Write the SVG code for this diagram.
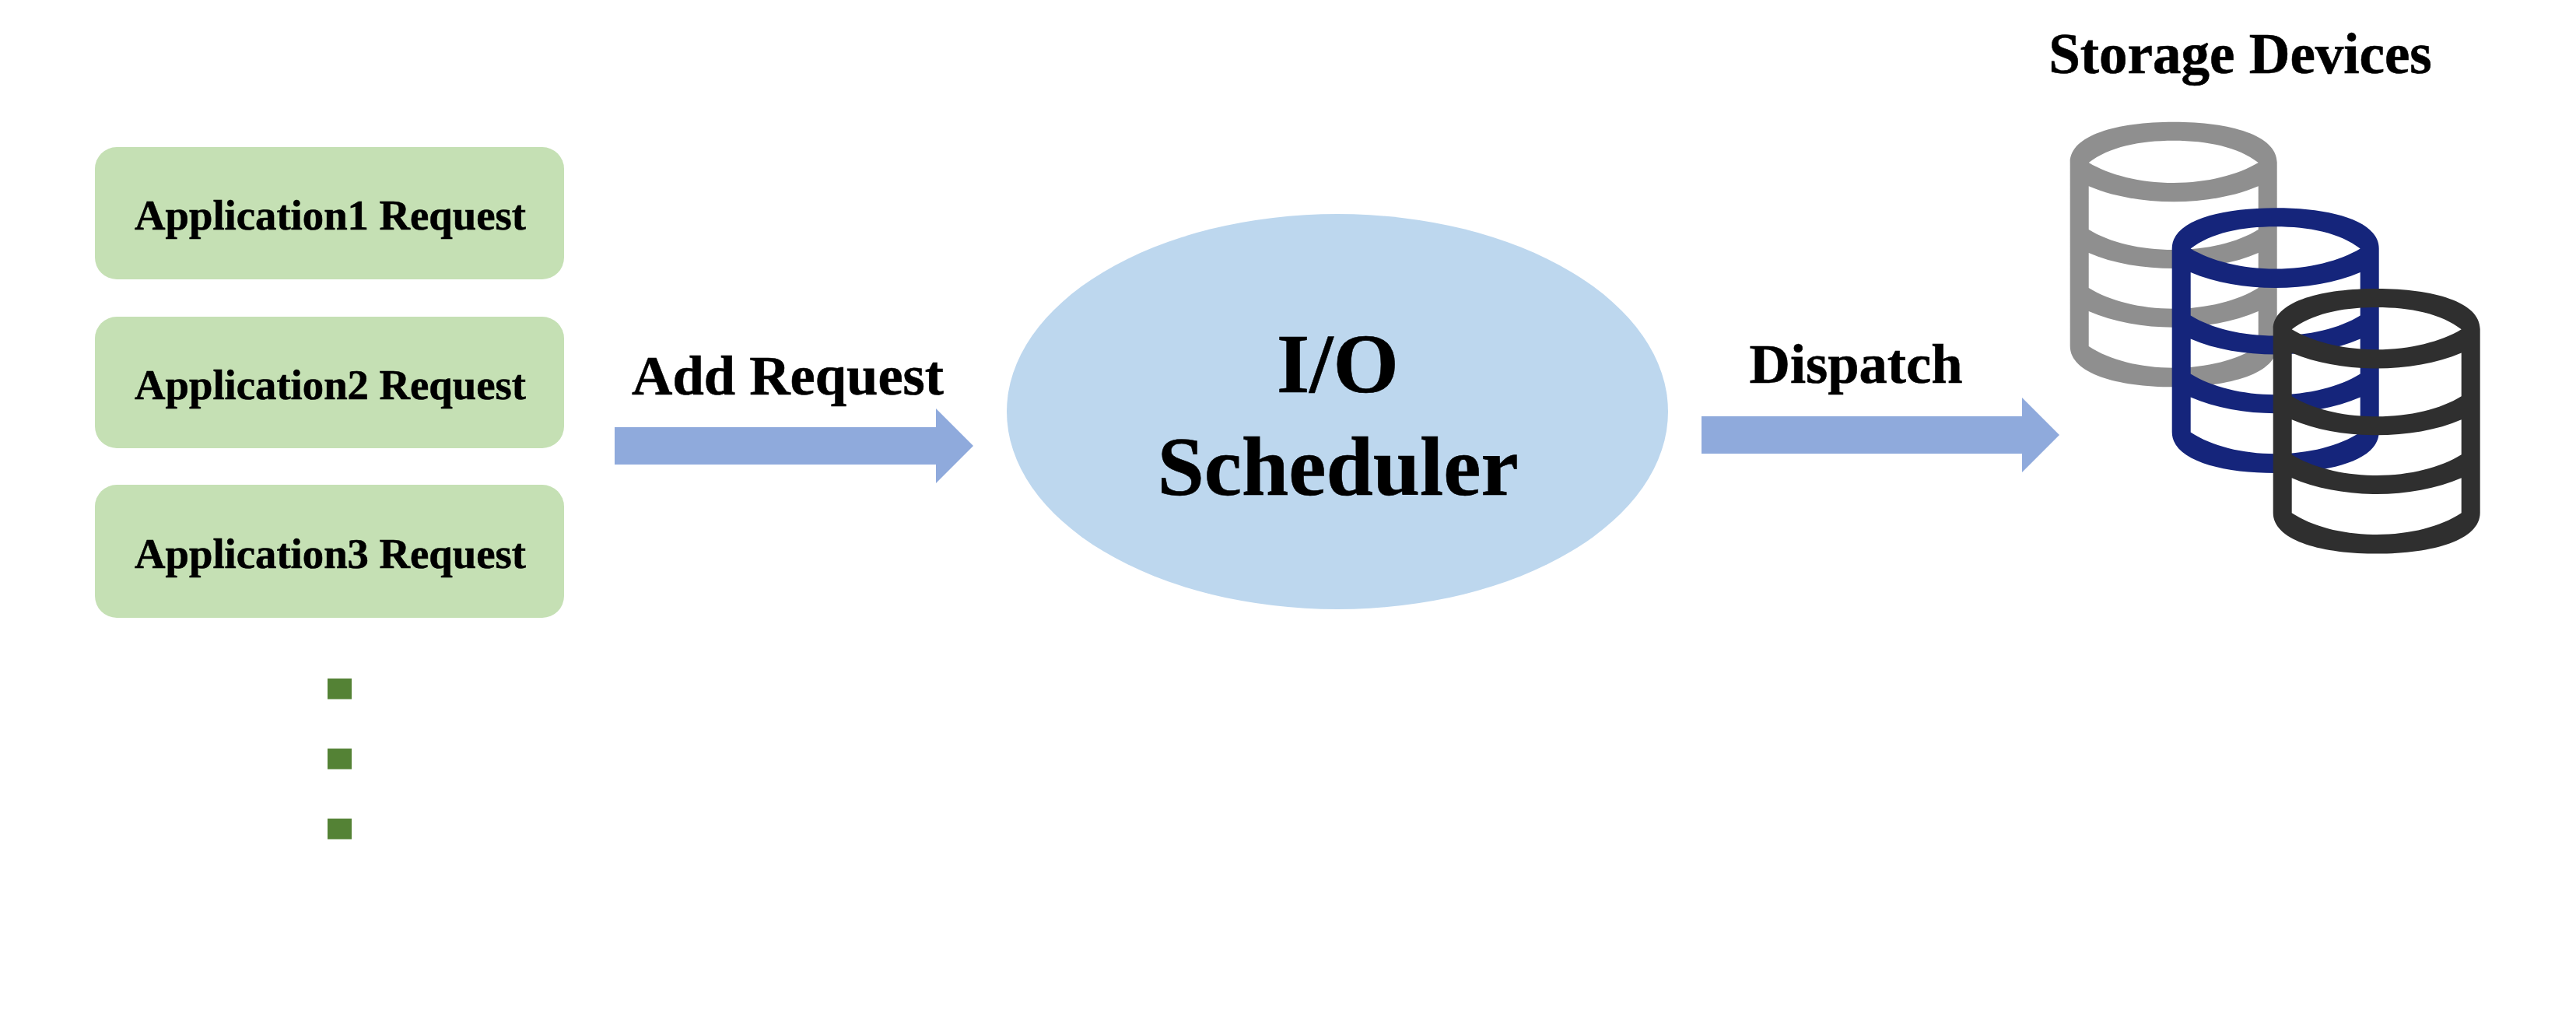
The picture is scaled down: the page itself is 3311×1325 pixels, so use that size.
<svg xmlns="http://www.w3.org/2000/svg" width="3311" height="1325" viewBox="0 0 3311 1325">
<style>
text{font-family:"Liberation Serif","Times New Roman",serif;font-weight:700;fill:#000;stroke:#000;stroke-width:.6px;text-anchor:middle}
.req{fill:#C5E0B4}
.dot{fill:#548235}
.arrow{fill:#8FAADC}
.t55{font-size:54.7px}
.t72{font-size:72.5px}
.t73{font-size:73px}
.t108{font-size:108.5px}
</style>
<defs>
<path id="cylinder" fill-rule="evenodd" d="M0,52 C0,17 60,0 133,0 C206,0 266,17 266,52 V288 C266,323 206,340.6 133,340.6 C60,340.6 0,323 0,288 Z
M24,52.3 C50,32 90,24 133,24 C176,24 216,32 242,52.3 C216,68 176,78.3 133,78.3 C90,78.3 50,68 24,52.3 Z
M24,82.6 C55,96 95,102.6 133,102.6 C171,102.6 211,96 242,82.6 V138.3 C215,155 176,164.3 133,164.3 C90,164.3 51,155 24,138.3 Z
M24,168.3 C55,182 95,188.3 133,188.3 C171,188.3 211,182 242,168.3 V213.3 C215,230 176,240 133,240 C90,240 51,230 24,213.3 Z
M24,243.3 C55,257 95,264 133,264 C171,264 211,257 242,243.3 V288.3 C215,306 176,316 133,316 C90,316 51,306 24,288.3 Z"/>
</defs>
<rect width="3311" height="1325" fill="#fff"/>
<g id="connectors">
<path class="arrow" d="M790,549H1203V525L1251,573L1203,621V597H790Z"/>
<path class="arrow" d="M2187,535H2599V511L2647,559L2599,607V583H2187Z"/>
</g>
<g id="app1"><rect class="req" x="122" y="189" width="603" height="170" rx="28"/><text class="t55" x="424.5" y="295">Application1 Request</text></g>
<g id="app2"><rect class="req" x="122" y="407" width="603" height="169" rx="28"/><text class="t55" x="424.5" y="512.5">Application2 Request</text></g>
<g id="app3"><rect class="req" x="122" y="623" width="603" height="171" rx="28"/><text class="t55" x="424.5" y="729.5">Application3 Request</text></g>
<g id="more">
<rect class="dot" x="421" y="872" width="31" height="26.5"/>
<rect class="dot" x="421" y="962" width="31" height="26.5"/>
<rect class="dot" x="421" y="1052" width="31" height="26.5"/>
</g>
<g id="add-request-label"><text class="t72" x="1012.5" y="507">Add Request</text></g>
<g id="scheduler"><ellipse cx="1719" cy="529" rx="425" ry="254" fill="#BDD7EE"/><text class="t108" x="1719.5" y="504">I/O</text><text class="t108" x="1719.5" y="636">Scheduler</text></g>
<g id="dispatch-label"><text class="t72" x="2385.5" y="491.5">Dispatch</text></g>
<g id="storage-label"><text class="t73" x="2879.5" y="94">Storage Devices</text></g>
<g id="disk-gray"><use href="#cylinder" fill="#8F8F8F" transform="translate(2660.7,156.7)"/></g>
<g id="disk-blue"><use href="#cylinder" fill="#15257B" transform="translate(2791.7,267.3)"/></g>
<g id="disk-dark"><use href="#cylinder" fill="#2F2F2F" transform="translate(2921.7,371)"/></g>
</svg>
